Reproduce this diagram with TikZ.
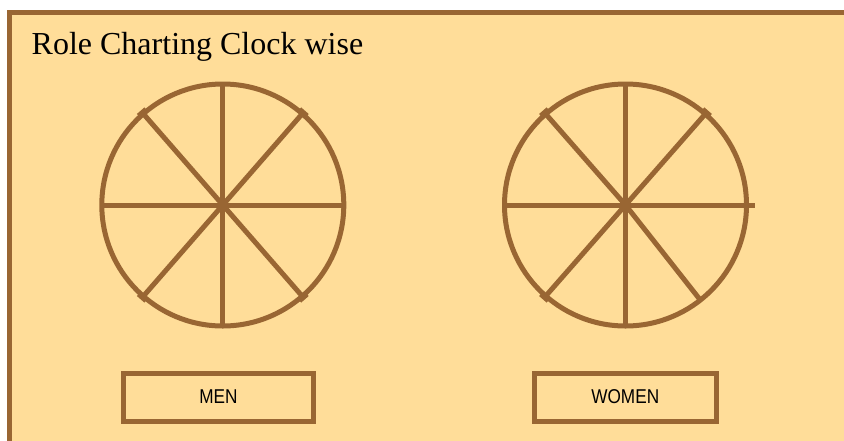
\documentclass[tikz,border=0pt]{standalone}
\usepackage{fontspec}
\setmainfont{Liberation Serif}
\newfontfamily\boxfont[FakeStretch=0.86]{Liberation Sans}
\usetikzlibrary{calc}
\definecolor{framebrown}{HTML}{996633}
\definecolor{paper}{HTML}{FFDD99}

\begin{document}
\begin{tikzpicture}[x=1pt,y=-1pt,
  wheel/.style={draw=framebrown,line width=5pt},
  spoke/.style={draw=framebrown,line width=5pt},
  barend/.style={draw=framebrown,line width=3.5pt},
  labelbox/.style={draw=framebrown,line width=5pt,fill=paper,inner sep=0pt,
    minimum height=48pt,font=\boxfont\fontsize{20}{24}\selectfont}]
  \fill[white](0,0) rectangle (844,440);
  \useasboundingbox (0,0) rectangle (844,440);
  \draw[framebrown,line width=4.7pt,fill=paper](9.7,12.7) rectangle (870,470);
  \node[anchor=base west,inner sep=0pt,font=\fontsize{32}{38}\selectfont] (title) at (31.5,54.5) {Role Charting Clock wise};
  % men wheel
  \coordinate (menc) at (222.8,205);
  \draw[wheel] (menc) circle (121);
  \draw[spoke] (menc) ++(0,-121) -- ++(0,242);
  \draw[spoke] (menc) ++(-121,0) -- ++(242,0);
  \foreach \dx/\dy in {-81/-93,81/-93,-81/93,81/93}{
    \draw[spoke] (menc) -- ++(\dx,\dy) coordinate (e);
    \draw[barend] ($(e)!5pt!90:(menc)$) -- ($(e)!5pt!-90:(menc)$);
  }
  % women wheel
  \coordinate (womenc) at (625.5,205);
  \draw[wheel] (womenc) circle (121);
  \draw[spoke] (womenc) ++(0,-121) -- ++(0,242);
  \draw[spoke] (womenc) ++(-121,0) -- ++(250,0);
  \foreach \dx/\dy in {-81.5/-93,81.5/-93,-81.5/93}{
    \draw[spoke] (womenc) -- ++(\dx,\dy) coordinate (e);
    \draw[barend] ($(e)!5pt!90:(womenc)$) -- ($(e)!5pt!-90:(womenc)$);
  }
  \draw[spoke] (womenc) -- ++(74,94);
  % labels
  \node[labelbox,minimum width=190pt] (men) at (218.5,397) {MEN};
  \node[labelbox,minimum width=182.5pt] (women) at (625.25,397) {WOMEN};
\end{tikzpicture}
\end{document}
